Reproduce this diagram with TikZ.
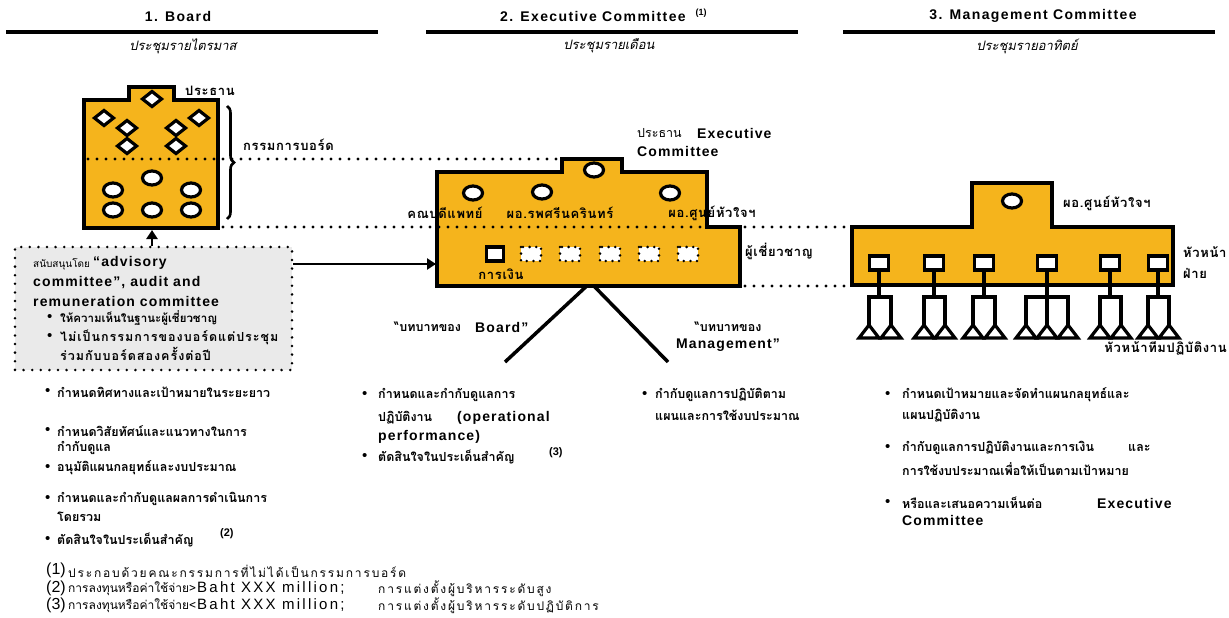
\documentclass[tikz,border=0pt]{standalone}
\usepackage{fontspec}
\setmainfont{Liberation Sans}
\newfontfamily\thaifont[Script=Thai]{Loma}
\newfontfamily\thaiwide[Script=Thai,LetterSpace=15]{Loma}
\newfontfamily\thaimid[Script=Thai,LetterSpace=8]{Loma}
\newfontfamily\thailbl[Script=Thai,LetterSpace=5]{Loma}
\newfontfamily\hdrfont[LetterSpace=10]{Liberation Sans}
\newfontfamily\engwide[LetterSpace=8]{Liberation Sans}
\newfontfamily\bigwide[LetterSpace=15]{Liberation Sans}
\usetikzlibrary{arrows.meta,decorations.pathreplacing}
\definecolor{orgfill}{HTML}{F5B41C}
\definecolor{advfill}{HTML}{EAEAEA}
\tikzset{
  orgshape/.style={fill=orgfill,draw=black,line width=3.5pt,line join=miter},
  wsym/.style={fill=white,draw=black,line width=3.2pt,line join=miter},
  dotsq/.style={fill=white,draw=black,line width=2.8pt,dash pattern=on 0pt off 6.6pt,line cap=round},
  dotline/.style={draw=black,line width=3.2pt,dash pattern=on 0pt off 9pt,line cap=round},
  hdrline/.style={draw=black,line width=4pt},
  hdr/.style={font=\fontsize{14}{16}\hdrfont\bfseries,inner sep=0pt},
  subt/.style={font=\fontsize{13}{15}\thaifont\itshape,inner sep=0pt},
  lbl/.style={font=\fontsize{13}{15}\thailbl\bfseries,inner sep=0pt},
  txt/.style={font=\fontsize{12.5}{15}\thaifont\bfseries,inner sep=0pt,anchor=west},
  eng/.style={font=\fontsize{14}{16}\engwide\bfseries,inner sep=0pt,anchor=west},
  bul/.style={font=\fontsize{15}{16}\selectfont,inner sep=0pt,anchor=west},
  note/.style={font=\fontsize{11}{13}\selectfont\bfseries,inner sep=0pt,anchor=west},
  fnnum/.style={font=\fontsize{16}{17}\selectfont,inner sep=0pt,anchor=west},
  fnbig/.style={font=\fontsize{15}{16}\bigwide,inner sep=0pt,anchor=west},
  fnth/.style={font=\fontsize{12}{13}\thaiwide,inner sep=0pt,anchor=west},
  conn/.style={draw=black,line width=3.5pt,line join=miter},
  arr/.style={draw=black,line width=2.8pt,-{Triangle[length=9pt,width=11pt]}},
  tri/.style={fill=white,draw=black,line width=3.2pt,line join=miter},
}
\newcommand\mydiam[2]{\draw[wsym] (#1,#2-7.5) -- (#1+9.5,#2) -- (#1,#2+7.5) -- (#1-9.5,#2) -- cycle;}
\newcommand\myoval[2]{\draw[wsym] (#1,#2) ellipse [x radius=9.5pt, y radius=7pt];}
\newcommand\mytri[1]{\draw[tri] (#1,325) -- (#1+10,338) -- (#1-10,338) -- cycle;}
\newcommand\mgroup[3]{%
  \draw[conn] (#1,270) -- (#1,297);
  \draw[conn] (#2,326) -- (#2,297) -- (#3,297) -- (#3,326);
  \draw[wsym] (#1-9.5,256) rectangle (#1+9.5,270);
  \mytri{#2}\mytri{#3}}
\begin{document}
\begin{tikzpicture}[x=1pt,y=-1pt]
\useasboundingbox (0,0) rectangle (1229,618);
% ---------- headers
\node[hdr] (h1) at (178,16) {1. Board};
\draw[hdrline] (6,32) -- (378,32);
\node[subt] (s1) at (183,46) {ประชุมรายไตรมาส};
\node[hdr] (h2) at (593,16) {2. Executive Committee};
\node[font=\fontsize{9}{10}\selectfont\bfseries,inner sep=0pt] (h2n) at (701,13) {(1)};
\draw[hdrline] (426,32) -- (798,32);
\node[subt] (s2) at (609,46) {ประชุมรายเดือน};
\node[hdr] (h3) at (1033,16) {3. Management Committee};
\draw[hdrline] (843,32) -- (1215,32);
\node[subt] (s3) at (1027,46) {ประชุมรายอาทิตย์};
% ---------- V lines under executive
\coordinate (vl) at (505,362);
\coordinate (vr) at (668,362);
\coordinate (vtl) at (591,282);
\coordinate (vtr) at (590,282);
\draw[conn] (vtl) -- (vl);
\draw[conn] (vtr) -- (vr);
% ---------- board shape
\draw[orgshape] (84,100) -- (129,100) -- (129,87) -- (174,87) -- (174,100) -- (218,100) -- (218,228) -- (84,228) -- cycle;
\coordinate (boardbot) at (152,230);
% ---------- executive shape
\draw[orgshape] (437,172) -- (562,172) -- (562,159) -- (622,159) -- (622,172) -- (707,172) -- (707,227) -- (740,227) -- (740,286) -- (437,286) -- cycle;
\coordinate (execleft) at (436,264);
% ---------- management shape
\draw[orgshape] (852,227) -- (972,227) -- (972,183) -- (1052,183) -- (1052,227) -- (1173,227) -- (1173,285) -- (852,285) -- cycle;
% ---------- dotted lines
\draw[dotline] (88,159) -- (558,159);
\draw[dotline] (223,227) -- (850,227);
\draw[dotline] (745,286) -- (850,286);
% ---------- board symbols
\mydiam{152}{99}
\mydiam{104}{118}\mydiam{127}{128}\mydiam{127}{146}
\mydiam{176}{128}\mydiam{176}{146}\mydiam{199}{118}
\myoval{152}{178}\myoval{113}{190}\myoval{191}{190}
\myoval{113}{210}\myoval{152}{210}\myoval{191}{210}
\draw[decorate,decoration={brace,amplitude=7pt},line width=2.6pt] (227,106) -- (227,219);
\node[lbl,anchor=west] (pres1) at (185,91) {ประธาน};
\node[lbl,anchor=west] (bmem) at (243,145) {กรรมการบอร์ด};
% ---------- executive symbols
\myoval{594}{170}
\myoval{473}{193}\myoval{542}{192}\myoval{670}{193}
\draw[wsym] (486.5,247) rectangle (503.5,261);
\foreach \cx [count=\i] in {531,570,610,649,688}{
  \draw[dotsq] (\cx-10,247) rectangle (\cx+10,261);}
\node[lbl] (ex1) at (445,213) {คณบดีแพทย์};
\node[lbl] (ex2) at (560,213) {ผอ.รพศรีนครินทร์};
\node[lbl] (ex3) at (712,213) {ผอ.ศูนย์หัวใจฯ};
\node[lbl] (exfin) at (501,274) {การเงิน};
\node[lbl,anchor=west] (exexp) at (745,251) {ผู้เชี่ยวชาญ};
\node[txt,font=\fontsize{12.5}{15}\thaifont] (expres) at (637,133) {ประธาน};
\node[eng] (expres2) at (697,133) {Executive};
\node[eng] (expres3) at (637,151) {Committee};
% ---------- management symbols
\myoval{1012}{201}
\node[lbl,anchor=west] (mgdir) at (1063,203) {ผอ.ศูนย์หัวใจฯ};
\mgroup{879}{869}{891}
\mgroup{934}{924}{945}
\mgroup{984}{973}{995}
\mgroup{1047}{1026}{1068}
\draw[conn] (1047,297) -- (1047,326);
\mytri{1047}
\mgroup{1110}{1100}{1121}
\mgroup{1158}{1148}{1169}
\node[lbl,anchor=west] (mghd1) at (1183,252) {หัวหน้า};
\node[lbl,anchor=west] (mghd2) at (1183,273) {ฝ่าย};
\node[lbl,anchor=east] (mgtl) at (1227,348) {หัวหน้าทีมปฏิบัติงาน};
% ---------- advisory box
\node[fill=advfill,draw=black,line width=2.8pt,dash pattern=on 0pt off 8.6pt,line cap=round,
      minimum width=277pt,minimum height=123pt,inner sep=0pt] (adv) at (153.5,308.5) {};
\node[txt,font=\fontsize{10}{12}\thaifont] (a1) at (33,264) {สนับสนุนโดย};
\node[eng] (a1e) at (93,263) {“advisory};
\node[eng] (a2) at (33,283) {committee”, audit and};
\node[eng] (a3) at (33,301) {remuneration committee};
\node[bul] (a4d) at (47,318) {•};
\node[txt,font=\fontsize{11.5}{14}\thaifont\bfseries] (a4) at (60,318) {ให้ความเห็นในฐานะผู้เชี่ยวชาญ};
\node[bul] (a5d) at (47,337) {•};
\node[txt,font=\fontsize{12.5}{15}\thaimid\bfseries] (a5) at (60,337) {ไม่เป็นกรรมการของบอร์ดแต่ประชุม};
\node[txt,font=\fontsize{12.5}{15}\thaimid\bfseries] (a6) at (60,354) {ร่วมกับบอร์ดสองครั้งต่อปี};
\draw[arr] (adv.north -| boardbot) -- (boardbot);
\draw[arr] (adv.east |- execleft) -- (execleft);
% ---------- role labels
\node[txt] (rb) at (394,327) {“บทบาทของ};
\node[eng] (rbe) at (475,327) {Board”};
\node[txt,anchor=center] (rm1) at (728,327) {“บทบาทของ};
\node[eng,anchor=center] (rm2) at (728,345) {Management”};
% ---------- board bullets
\node[bul] (b1d) at (45,392) {•};
\node[txt] (b1) at (57,392) {กำหนดทิศทางและเป้าหมายในระยะยาว};
\node[bul] (b2d) at (45,431) {•};
\node[txt] (b2) at (57,431) {กำหนดวิสัยทัศน์และแนวทางในการ};
\node[txt] (b2b) at (57,448) {กำกับดูแล};
\node[bul] (b3d) at (45,468) {•};
\node[txt] (b3) at (57,468) {อนุมัติแผนกลยุทธ์และงบประมาณ};
\node[bul] (b4d) at (45,499) {•};
\node[txt] (b4) at (57,499) {กำหนดและกำกับดูแลผลการดำเนินการ};
\node[txt] (b4b) at (57,517) {โดยรวม};
\node[bul] (b5d) at (45,540) {•};
\node[txt] (b5) at (57,540) {ตัดสินใจในประเด็นสำคัญ};
\node[note] (b5n) at (220,534) {(2)};
% ---------- executive bullets
\node[bul] (m1d) at (362,395) {•};
\node[txt] (m1) at (378,395) {กำหนดและกำกับดูแลการ};
\node[txt] (m2) at (378,418) {ปฏิบัติงาน};
\node[eng] (m2e) at (457,418) {(operational};
\node[eng] (m3) at (378,437) {performance)};
\node[bul] (m4d) at (362,457) {•};
\node[txt] (m4) at (378,457) {ตัดสินใจในประเด็นสำคัญ};
\node[note] (m4n) at (549,453) {(3)};
\node[bul] (r1d) at (642,395) {•};
\node[txt] (r1) at (655,395) {กำกับดูแลการปฏิบัติตาม};
\node[txt] (r2) at (655,415) {แผนและการใช้งบประมาณ};
% ---------- management bullets
\node[bul] (g1d) at (885,395) {•};
\node[txt] (g1) at (902,395) {กำหนดเป้าหมายและจัดทำแผนกลยุทธ์และ};
\node[txt] (g1b) at (902,416) {แผนปฏิบัติงาน};
\node[bul] (g2d) at (885,448) {•};
\node[txt] (g2) at (902,448) {กำกับดูแลการปฏิบัติงานและการเงิน};
\node[txt] (g2x) at (1128,448) {และ};
\node[txt] (g2b) at (902,469) {การใช้งบประมาณเพื่อให้เป็นตามเป้าหมาย};
\node[bul] (g3d) at (885,503) {•};
\node[txt] (g3) at (902,503) {หรือและเสนอความเห็นต่อ};
\node[eng] (g3e) at (1097,503) {Executive};
\node[eng] (g3b) at (902,520) {Committee};
% ---------- footnotes
\node[fnnum] (f1) at (46,570) {(1)};
\node[fnth] (f1t) at (68,571) {ประกอบด้วยคณะกรรมการที่ไม่ได้เป็นกรรมการบอร์ด};
\node[fnnum] (f2) at (46,588) {(2)};
\node[fnth,font=\fontsize{12}{13}\thaifont] (f2t) at (68,589) {การลงทุนหรือค่าใช้จ่าย>};
\node[fnbig] (f2e) at (197,588) {Baht XXX million;};
\node[fnth] (f2u) at (378,589) {การแต่งตั้งผู้บริหารระดับสูง};
\node[fnnum] (f3) at (46,605) {(3)};
\node[fnth,font=\fontsize{12}{13}\thaifont] (f3t) at (68,606) {การลงทุนหรือค่าใช้จ่าย<};
\node[fnbig] (f3e) at (197,605) {Baht XXX million;};
\node[fnth] (f3u) at (378,606) {การแต่งตั้งผู้บริหารระดับปฏิบัติการ};
\end{tikzpicture}
\end{document}
